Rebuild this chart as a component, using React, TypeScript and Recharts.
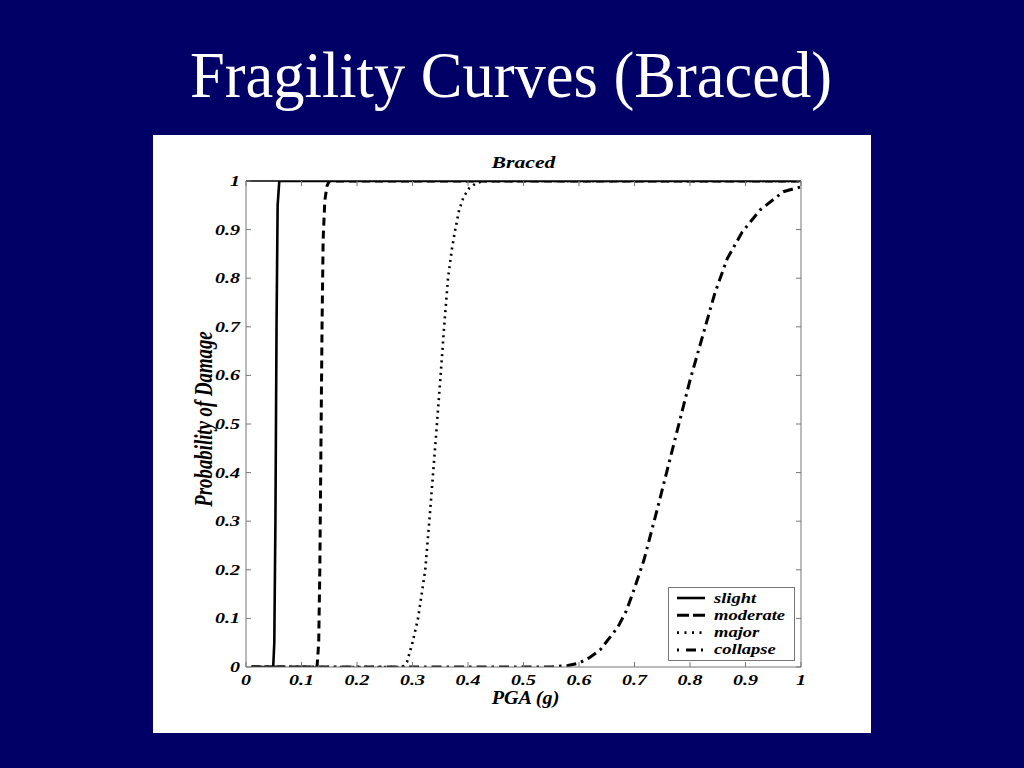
import React from 'react';
import { LineChart, Line, XAxis, YAxis, Label } from 'recharts';

// ---- data ----
const slightX = [0.01, 0.049, 0.051, 0.053, 0.055, 0.057, 0.06, 1.0];
const slightY = [0, 0, 0.05, 0.3, 0.7, 0.95, 1, 1];

const moderateX = [0.01, 0.128, 0.131, 0.133, 0.135, 0.137, 0.139, 0.142, 0.146, 0.15, 1.0];
const moderateY = [0, 0, 0.05, 0.2, 0.45, 0.7, 0.88, 0.96, 0.99, 1, 1];

const majorX = [0.01, 0.282, 0.29, 0.3, 0.31, 0.323, 0.331, 0.342, 0.35, 0.357, 0.364, 0.371, 0.377, 0.384, 0.392, 0.402, 0.414, 0.427, 1.0];
const majorY = [0, 0, 0.01, 0.05, 0.1, 0.2, 0.31, 0.47, 0.59, 0.7, 0.8, 0.86, 0.9, 0.94, 0.967, 0.985, 0.995, 1, 1];

const collapseX = [0.01, 0.55, 0.58, 0.6, 0.62, 0.638, 0.655, 0.67, 0.685, 0.697, 0.717, 0.74, 0.76, 0.78, 0.8, 0.815, 0.83, 0.845, 0.867, 0.894, 0.926, 0.968, 1.0];
const collapseY = [0, 0, 0.003, 0.008, 0.02, 0.035, 0.06, 0.082, 0.115, 0.152, 0.22, 0.32, 0.41, 0.5, 0.59, 0.65, 0.71, 0.77, 0.84, 0.895, 0.94, 0.978, 0.988];

const xTicks = [0, 0.1, 0.2, 0.3, 0.4, 0.5, 0.6, 0.7, 0.8, 0.9, 1];
const yTicks = [0, 0.1, 0.2, 0.3, 0.4, 0.5, 0.6, 0.7, 0.8, 0.9, 1];
const tickLabels = ['0', '0.1', '0.2', '0.3', '0.4', '0.5', '0.6', '0.7', '0.8', '0.9', '1'];

const seriesNames = ['slight', 'moderate', 'major', 'collapse'];

const pageTitle = 'Fragility Curves (Braced)';
const chartTitle = 'Braced';
const xLabel = 'PGA (g)';
const yLabel = 'Probability of Damage';

// ---- styles ----
const FONT = '"Liberation Serif", "Times New Roman", Times, serif';
const BG = '#000066';
const AXIS = '#777777';

const toData = (xs: number[], ys: number[]) => xs.map((x, i) => ({ x, y: ys[i] }));

const seriesStyle = [
  { width: 2.6, dash: undefined as string | undefined, legendDash: undefined as string | undefined },
  { width: 3, dash: '8 5', legendDash: '12 4' },
  { width: 2.6, dash: '2 4.3', legendDash: '2 5.5' },
  { width: 3, dash: '10 5 2.5 5', legendDash: '2 7 10 5' },
];

const seriesData = [
  toData(slightX, slightY),
  toData(moderateX, moderateY),
  toData(majorX, majorY),
  toData(collapseX, collapseY),
];

const fmt = (v: number) => tickLabels[Math.round(v * 10)] ?? String(v);

const textProps = {
  fontFamily: FONT,
  fontWeight: 'bold' as const,
  fontStyle: 'italic' as const,
  fill: '#000',
};

const LeftTick = (props: any) => {
  const { x, y, payload } = props;
  return (
    <g transform={`translate(${x},${y}) scale(1.38,1)`}>
      <text x={0} y={5} textAnchor="end" fontSize={14.5} {...textProps}>
        {fmt(payload.value)}
      </text>
    </g>
  );
};

const BottomTick = (props: any) => {
  const { x, y, payload } = props;
  return (
    <g transform={`translate(${x},${y}) scale(1.38,1)`}>
      <text x={0} y={18.5} textAnchor="middle" fontSize={14.5} {...textProps}>
        {fmt(payload.value)}
      </text>
    </g>
  );
};

const EmptyTick = () => <g />;

const XLabelContent = (props: any) => {
  const vb = props.viewBox || {};
  const cx = vb.x + vb.width / 2 + 2;
  const y = vb.y + 37;
  return (
    <g transform={`translate(${cx},${y}) scale(1.12,1)`}>
      <text x={0} y={0} textAnchor="middle" fontSize={18} {...textProps}>
        {xLabel}
      </text>
    </g>
  );
};

const YLabelContent = (props: any) => {
  const vb = props.viewBox || {};
  const cx = vb.x + 16;
  const cy = vb.y + vb.height / 2 - 5;
  return (
    <g transform={`translate(${cx},${cy}) rotate(-90) scale(1,1.3)`}>
      <text x={0} y={0} textAnchor="middle" fontSize={18.8} {...textProps}>
        {yLabel}
      </text>
    </g>
  );
};

const TitleContent = (props: any) => {
  const vb = props.viewBox || {};
  const cx = vb.x + vb.width / 2;
  const y = vb.y - 13;
  return (
    <g transform={`translate(${cx},${y}) scale(1.24,1)`}>
      <text x={0} y={0} textAnchor="middle" fontSize={17.5} {...textProps}>
        {chartTitle}
      </text>
    </g>
  );
};

const LegendBox = () => (
  <svg
    width={128}
    height={75}
    style={{ position: 'absolute', left: 515, top: 452, overflow: 'visible' }}
  >
    <rect x={0.5} y={0.5} width={126} height={73} fill="#fff" stroke={AXIS} strokeWidth={1} />
    {seriesNames.map((name, i) => {
      const cy = 11 + i * 17.3;
      return (
        <g key={name}>
          <line
            x1={9}
            x2={37}
            y1={cy}
            y2={cy}
            stroke="#000"
            strokeWidth={seriesStyle[i].width}
            strokeDasharray={seriesStyle[i].legendDash}
          />
          <g transform={`translate(46,${cy + 4.5}) scale(1.28,1)`}>
            <text x={0} y={0} fontSize={14.5} {...textProps}>
              {name}
            </text>
          </g>
        </g>
      );
    })}
  </svg>
);

export default function App() {
  return (
    <div
      style={{
        position: 'absolute',
        left: 0,
        top: 0,
        width: 1024,
        height: 768,
        background: BG,
        overflow: 'hidden',
      }}
    >
      <svg width={1024} height={130} style={{ position: 'absolute', left: 0, top: 0 }}>
        <g transform="translate(511,97) scale(1,1.08)">
          <text
            x={0}
            y={0}
            textAnchor="middle"
            textLength={642}
            lengthAdjust="spacingAndGlyphs"
            fontSize={60}
            fill="#fff"
            fontFamily={FONT}
          >
            {pageTitle}
          </text>
        </g>
      </svg>
      <div
        style={{
          position: 'absolute',
          left: 153,
          top: 135,
          width: 718,
          height: 598,
          background: '#fff',
        }}
      >
        <LineChart width={718} height={598} margin={{ top: 46, right: 70, bottom: 36, left: 43 }}>
          <XAxis
            xAxisId="b"
            dataKey="x"
            type="number"
            domain={[0, 1]}
            ticks={xTicks}
            allowDataOverflow
            orientation="bottom"
            height={30}
            tickSize={0}
            tickMargin={0}
            tickLine={false}
            axisLine={{ stroke: AXIS, strokeWidth: 1 }}
            tick={BottomTick}
            interval={0}
          >
            <Label content={XLabelContent} />
          </XAxis>
          <XAxis
            xAxisId="bm"
            dataKey="x"
            type="number"
            domain={[0, 1]}
            ticks={xTicks}
            allowDataOverflow
            orientation="bottom"
            mirror
            height={1}
            tickSize={5}
            tickLine={{ stroke: AXIS }}
            axisLine={false}
            tick={EmptyTick}
            interval={0}
          />
          <XAxis
            xAxisId="t"
            dataKey="x"
            type="number"
            domain={[0, 1]}
            ticks={xTicks}
            allowDataOverflow
            orientation="top"
            mirror
            height={1}
            tickSize={5}
            tickLine={{ stroke: AXIS }}
            axisLine={{ stroke: '#000', strokeWidth: 1.5 }}
            tick={EmptyTick}
            interval={0}
          >
            <Label content={TitleContent} />
          </XAxis>
          <YAxis
            yAxisId="l"
            type="number"
            domain={[0, 1]}
            ticks={yTicks}
            allowDataOverflow
            orientation="left"
            width={50}
            tickSize={0}
            tickMargin={6}
            tickLine={false}
            axisLine={{ stroke: AXIS, strokeWidth: 1 }}
            tick={LeftTick}
            interval={0}
          >
            <Label content={YLabelContent} />
          </YAxis>
          <YAxis
            yAxisId="lm"
            type="number"
            domain={[0, 1]}
            ticks={yTicks}
            allowDataOverflow
            orientation="left"
            mirror
            width={1}
            tickSize={5}
            tickLine={{ stroke: AXIS }}
            axisLine={false}
            tick={EmptyTick}
            interval={0}
          />
          <YAxis
            yAxisId="r"
            type="number"
            domain={[0, 1]}
            ticks={yTicks}
            allowDataOverflow
            orientation="right"
            mirror
            width={1}
            tickSize={5}
            tickLine={{ stroke: AXIS }}
            axisLine={{ stroke: AXIS, strokeWidth: 1 }}
            tick={EmptyTick}
            interval={0}
          />
          {seriesNames.map((name, i) => (
            <Line
              key={name}
              name={name}
              xAxisId="b"
              yAxisId="l"
              data={seriesData[i]}
              dataKey="y"
              type="linear"
              dot={false}
              activeDot={false}
              stroke="#000"
              strokeWidth={seriesStyle[i].width}
              strokeDasharray={seriesStyle[i].dash}
              strokeLinecap="butt"
              isAnimationActive={false}
            />
          ))}
        </LineChart>
        <LegendBox />
      </div>
    </div>
  );
}
